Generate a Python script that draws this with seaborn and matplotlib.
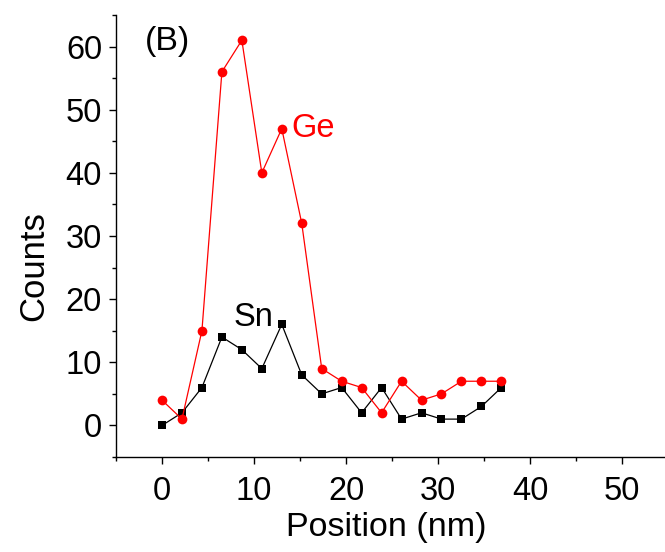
import numpy as np
import pandas as pd
import matplotlib
matplotlib.use("Agg")
import matplotlib.pyplot as plt
import seaborn as sns
from matplotlib.ticker import MultipleLocator

# Data
position = [0.0, 2.17, 4.34, 6.51, 8.68, 10.85, 13.02, 15.19, 17.36, 19.53,
            21.7, 23.87, 26.04, 28.21, 30.38, 32.55, 34.72, 36.89]
sn_counts = [0, 2, 6, 14, 12, 9, 16, 8, 5, 6, 2, 6, 1, 2, 1, 1, 3, 6]
ge_counts = [4, 1, 15, 56, 61, 40, 47, 32, 9, 7, 6, 2, 7, 4, 5, 7, 7, 7]
x_ticks = [0, 10, 20, 30, 40, 50]
y_ticks = [0, 10, 20, 30, 40, 50, 60]

sns.set_style("ticks")
plt.rcParams['font.family'] = ['Liberation Sans', 'DejaVu Sans']
plt.rcParams['text.color'] = 'black'
plt.rcParams['axes.labelcolor'] = 'black'

df_sn = pd.DataFrame({"Position": position, "Counts": sn_counts})
df_ge = pd.DataFrame({"Position": position, "Counts": ge_counts})

fig = plt.figure(figsize=(6.65, 5.52), dpi=100)
ax = fig.add_axes([116 / 665, (552 - 457) / 552, (668 - 116) / 665, (457 - 15) / 552])

sns.lineplot(data=df_sn, x="Position", y="Counts", ax=ax, color="black",
             marker="s", markersize=6.4, markeredgewidth=0, linewidth=0.9)
sns.lineplot(data=df_ge, x="Position", y="Counts", ax=ax, color="red",
             marker="o", markersize=7, markeredgewidth=0, linewidth=0.9)

ax.set_xlim(-5, 55)
ax.set_ylim(-5, 65)
ax.set_xticks(x_ticks)
ax.set_yticks(y_ticks)
ax.xaxis.set_minor_locator(MultipleLocator(5))
ax.yaxis.set_minor_locator(MultipleLocator(5))
ax.tick_params(axis="both", which="major", direction="out", length=5, width=1,
               labelsize=23.5, colors="black", pad=5)
ax.tick_params(axis="x", which="major", pad=8.5)
ax.tick_params(axis="both", which="minor", direction="out", length=3, width=1,
               colors="black")
for s in ["top", "right"]:
    ax.spines[s].set_visible(False)
for s in ["left", "bottom"]:
    ax.spines[s].set_linewidth(1)
    ax.spines[s].set_color("black")

ax.set_xlabel("Position (nm)", fontsize=24.5, color="black")
ax.set_ylabel("Counts", fontsize=25, color="black")
ax.xaxis.set_label_coords(0.489, -0.125)
ax.yaxis.set_label_coords(-0.12, 0.431)

ax.text(-1.9, 60.8, "(B)", fontsize=24.5, ha="left", va="center", color="black")
ax.text(14.1, 47.1, "Ge", fontsize=23.5, ha="left", va="center", color="red")
ax.text(7.8, 17.1, "Sn", fontsize=23.5, ha="left", va="center", color="black")

fig.savefig("out.png", dpi=100)
